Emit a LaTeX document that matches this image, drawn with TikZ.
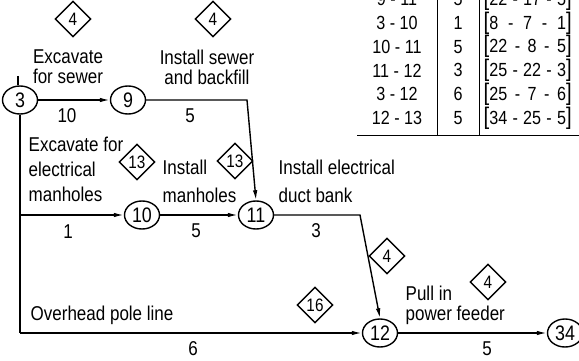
\documentclass[tikz,border=0pt]{standalone}
\usepackage{fontspec}
\setmainfont{Liberation Sans}[FakeStretch=0.85]
\usetikzlibrary{arrows.meta,shapes.geometric}

\newcommand{\tbrk}[3]{\makebox[88pt][s]{{\fontsize{24}{24}\selectfont[}#1\hfill-\hfill#2\hfill-\hfill#3{\fontsize{24}{24}\selectfont]}}}

\begin{document}
\begin{tikzpicture}[x=1pt,y=-1pt,line width=1.4pt,
  event/.style={draw, ellipse, minimum width=35pt, minimum height=28pt, inner sep=0pt, font=\fontsize{21}{21}\selectfont},
  slack/.style={draw, diamond, minimum size=36pt, inner sep=0pt, font=\fontsize{18}{18}\selectfont},
  lbl/.style={inner sep=0pt, font=\fontsize{20}{20}\selectfont},
  tab/.style={inner sep=0pt, font=\fontsize{19}{19}\selectfont},
  act/.style={-{Latex[length=10pt,width=4.5pt]}}]
\useasboundingbox (0,0) rectangle (579,361);

% events
\node[event] (n3) at (20,100) {3};
\node[event] (n9) at (128,100) {9};
\node[event] (n10) at (142,215) {10};
\node[event] (n11) at (256,215) {11};
\node[event] (n12) at (380,333) {12};
\node[event] (n34) at (565,333) {34};

% bends
\coordinate (in3) at (18,76);
\coordinate (c9) at (247,100);
\coordinate (c11) at (360,215);
\coordinate (b10) at (20,215);
\coordinate (b12) at (20,333);

% activities
\draw (in3) -- (in3 |- n3.north);
\draw[act] (n3) -- (n9);
\draw[act] (n9) -- (c9) -- (n11.north);
\draw (n3) -- (b12);
\draw[act] (b10) -- (n10);
\draw[act] (n10) -- (n11);
\draw[act] (n11) -- (c11) -- (n12.north);
\draw[act] (b12) -- (n12);
\draw[act] (n12) -- (n34);

% durations
\node[lbl] (d39) at (67,116) {10};
\node[lbl] (d911) at (190,116) {5};
\node[lbl] (d310) at (68,232) {1};
\node[lbl] (d1011) at (196,231) {5};
\node[lbl] (d1112) at (316,231) {3};
\node[lbl] (d312) at (193,349) {6};
\node[lbl] (d1234) at (487,349) {5};

% descriptions
\node[lbl, align=center] (tsewer) at (68,67) {Excavate\\for sewer};
\node[lbl, align=center] (tback) at (207,67) {Install sewer\\and backfill};
\node[lbl, align=left, anchor=west] (tman) at (28,169) {Excavate for\\[5pt]electrical\\[5pt]manholes};
\node[lbl, align=left, anchor=west] (tinst) at (162,181) {Install\\[8pt]manholes};
\node[lbl, align=left, anchor=west] (tduct) at (278,181) {Install electrical\\[8pt]duct bank};
\node[lbl, align=left, anchor=west] (tfeed) at (405,305) {Pull in\\power feeder};
\node[lbl, anchor=west] (tpole) at (30,315) {Overhead pole line};

% crews
\node[slack] (s39) at (73,19) {4};
\node[slack] (s911) at (213,19) {4};
\node[slack] (s310) at (137,162) {13};
\node[slack] (s1011) at (235,161) {13};
\node[slack] (s1112) at (387,256) {4};
\node[slack] (s312) at (315,305) {16};
\node[slack] (s1234) at (488,282) {4};

% float table
\draw[line width=1pt] (437,0) -- (437,135);
\draw[line width=1pt] (479,0) -- (479,135);
\draw[line width=1pt] (357,135) -- (579,135);
\foreach \ij/\dur/\calc [count=\i] in {9 - 11/5/{\tbrk{22}{17}{5}}, 3 - 10/1/{\tbrk{8}{7}{1}},
    10 - 11/5/{\tbrk{22}{8}{5}}, 11 - 12/3/{\tbrk{25}{22}{3}}, 3 - 12/6/{\tbrk{25}{7}{6}},
    12 - 13/5/{\tbrk{34}{25}{5}}}{
  \node[tab] (ij\i) at (397,{-1+23.8*(\i-1)}) {\ij};
  \node[tab] (dur\i) at (458,{-1+23.8*(\i-1)}) {\dur};
  \node[tab, anchor=west] (calc\i) at (483,{-1+23.8*(\i-1)}) {\calc};
}
\end{tikzpicture}
\end{document}
